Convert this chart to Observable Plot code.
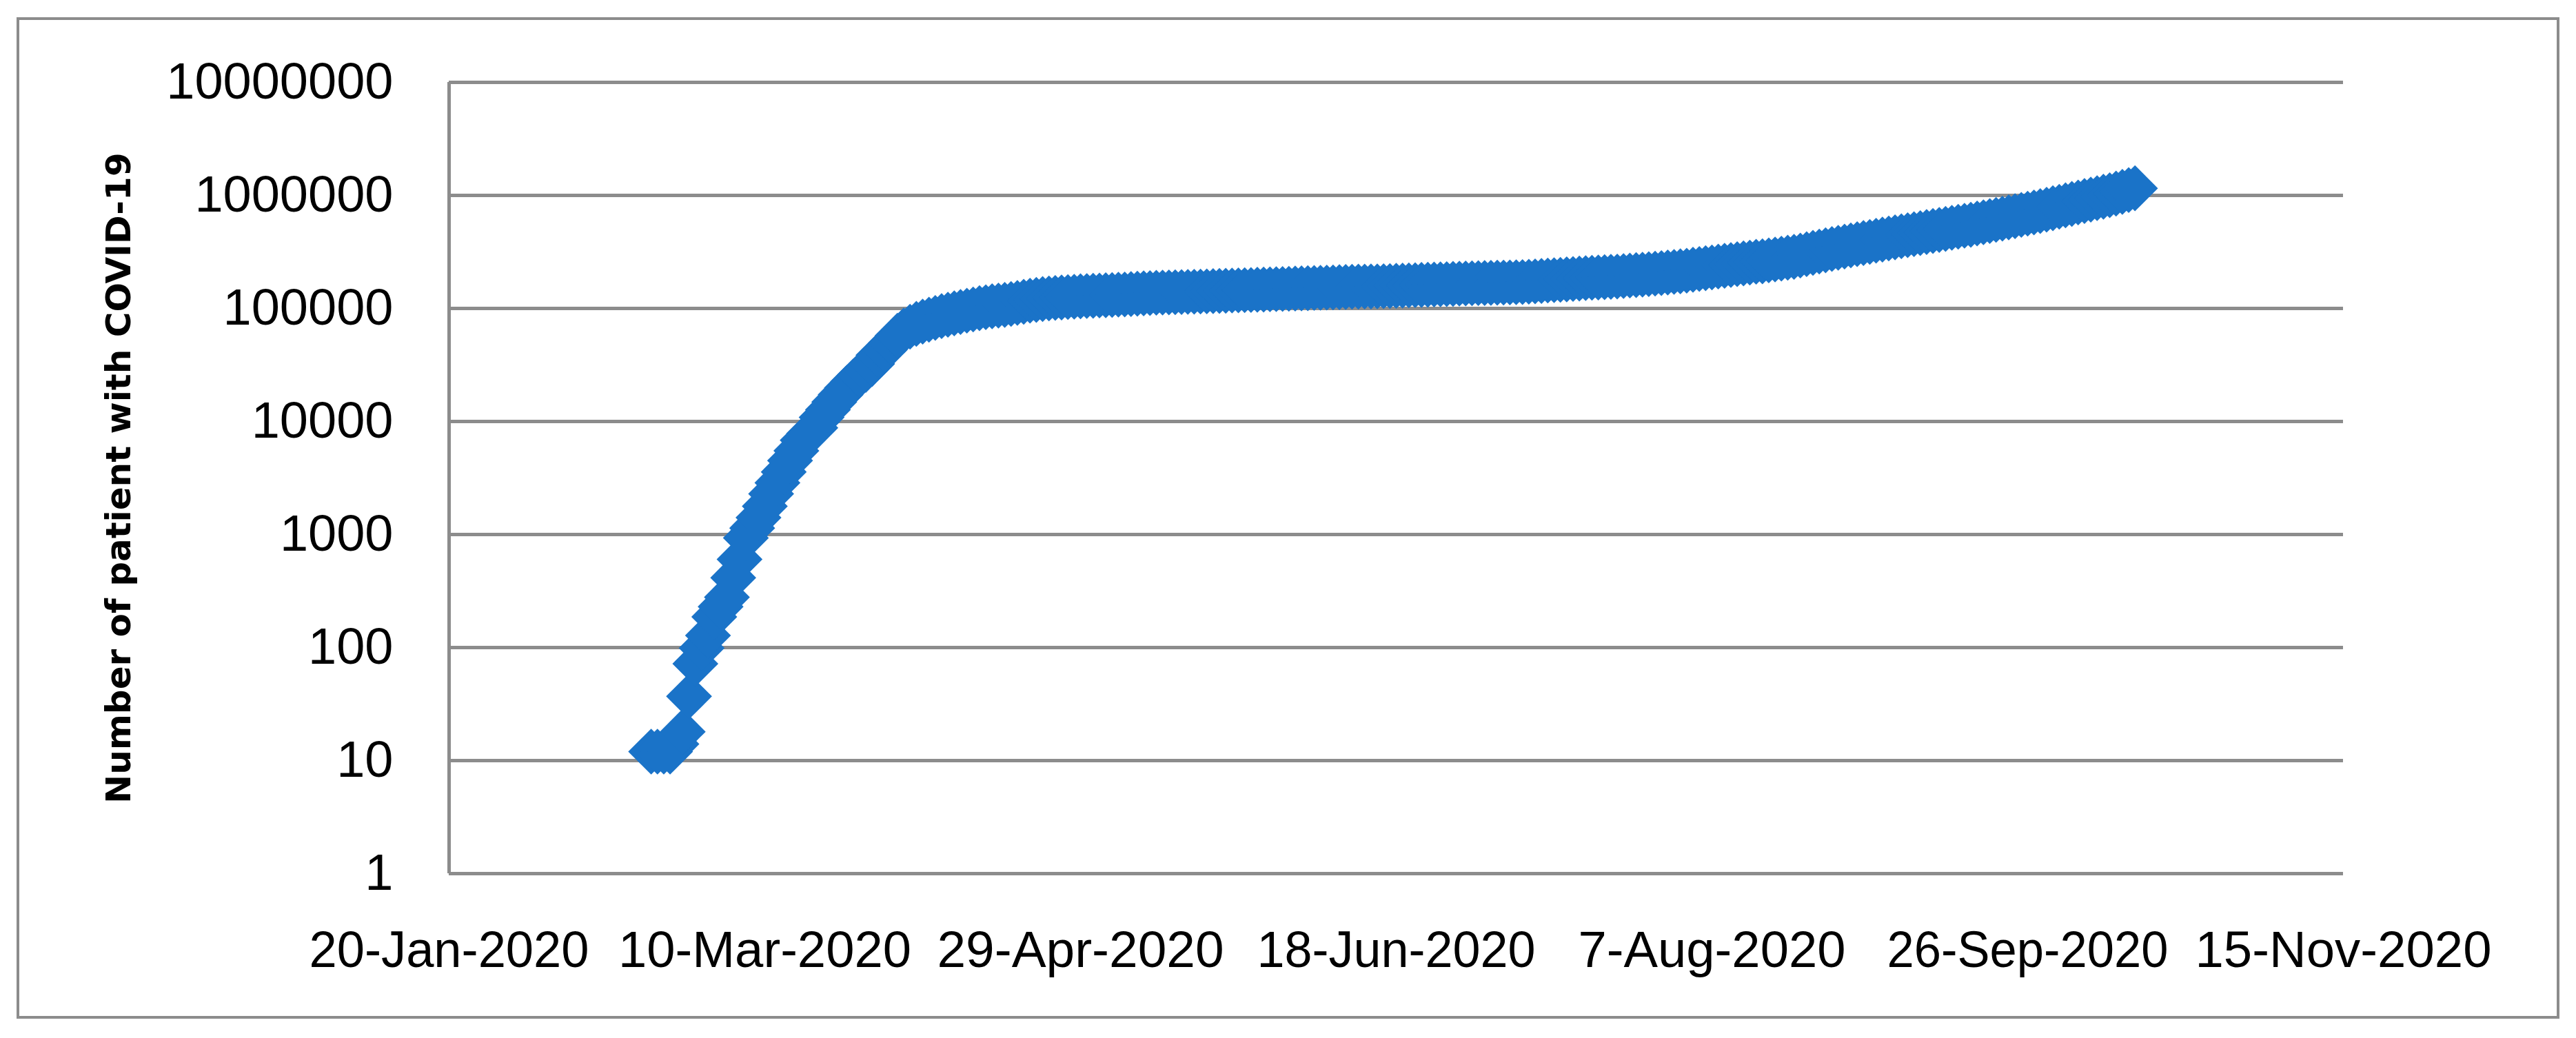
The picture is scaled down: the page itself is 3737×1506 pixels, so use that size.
<!DOCTYPE html>
<html>
<head>
<meta charset="utf-8">
<script src="https://cdn.jsdelivr.net/npm/d3@7"></script>
<script src="https://cdn.jsdelivr.net/npm/@observablehq/plot@0.6"></script>
<style>
  html, body { margin: 0; padding: 0; background: #ffffff; }
  #wrap { position: relative; width: 3737px; height: 1506px; background: #ffffff; overflow: hidden; }
  #border { position: absolute; left: 24px; top: 25px; width: 3689px; height: 1453px; box-sizing: border-box; border: 4px solid #8c8c8c; pointer-events: none; }
  #chart { position: absolute; left: 0; top: 0; }
</style>
</head>
<body>
<div id="wrap">
  <div id="border"></div>
  <div id="chart"></div>
</div>
<script>
// ---- data ----
const yTitle = "Number of patient with COVID-19";
const xTicks = ["2020-01-20", "2020-03-10", "2020-04-29", "2020-06-18", "2020-08-07", "2020-09-26", "2020-11-15"];
const xTickLabels = ["20-Jan-2020", "10-Mar-2020", "29-Apr-2020", "18-Jun-2020", "7-Aug-2020", "26-Sep-2020", "15-Nov-2020"];
const yTicks = [1, 10, 100, 1000, 10000, 100000, 1000000, 10000000];
const firstDay = "2020-02-21"; // one value per day from this date
const cases = [
  12, 12, 12, 12, 14, 18, 37, 72, 99, 128,
  187, 230, 279, 415, 603, 933, 1140, 1410, 1780, 2290,
  2870, 3580, 4500, 5500, 6820, 7810, 8770, 10870, 12700, 14880,
  17200, 19850, 22550, 25650, 28600, 32260, 38600, 43000, 49700, 57300,
  63700, 69000, 73000, 76500, 79500, 82500, 85500, 88000, 90500, 93000,
  95500, 98000, 100500, 102500, 104500, 106000, 107500, 109500, 112000, 114500,
  117000, 119000, 121000, 122500, 124000, 125000, 126000, 127000, 128000, 128800,
  129500, 130000, 130800, 131500, 132300, 133000, 134000, 135000, 136000, 136800,
  137500, 138000, 138500, 139000, 139500, 140000, 140500, 141000, 141600, 142200,
  142800, 143400, 144000, 144500, 145100, 145700, 146300, 146900, 147500, 148100,
  148700, 149300, 149900, 150500, 151100, 151700, 152300, 152900, 153500, 154200,
  154900, 155600, 155900, 156200, 156500, 156800, 157200, 157900, 158600, 159300,
  160000, 160700, 161400, 162100, 162800, 163500, 164200, 164900, 165700, 166500,
  167000, 167400, 167900, 168400, 168900, 169400, 169900, 170500, 171100, 172200,
  173600, 175000, 176400, 177800, 179200, 180700, 182200, 183800, 185400, 186600,
  187800, 189000, 190300, 191600, 193400, 195300, 197200, 199100, 201000, 203000,
  205500, 208000, 210500, 213000, 215600, 219800, 223500, 227000, 230800, 234600,
  238500, 242400, 246400, 250400, 254500, 258700, 261000, 266000, 271000, 276000,
  281000, 286000, 294000, 302000, 310000, 318500, 327000, 336000, 344000, 352500,
  361000, 370000, 379000, 388000, 397000, 406500, 416000, 425500, 435000, 444500,
  454000, 464000, 474000, 484500, 495000, 505500, 516500, 527500, 539000, 550000,
  564000, 578000, 593000, 608000, 623000, 639000, 655000, 672000, 689000, 707000,
  726000, 748000, 770000, 793000, 817000, 841000, 866000, 892000, 918000, 946000,
  974000, 1003000, 1038000, 1075000, 1114000, 1156000
];

// ---- table for the library ----
const t0 = new Date(firstDay);
const data = cases.map((v, i) => ({ date: new Date(t0.getTime() + i * 86400000), cases: v }));
const xt = xTicks.map(s => new Date(s));
const labelOf = d => xTickLabels[xt.findIndex(t => +t === +d)];

// ---- styling ----
const gridColor = "#8c8c8c";
const markerColor = "#1a73c8";
const xLabelWidths = [406, 425, 416, 404, 388, 408, 430];

const chart = Plot.plot({
  width: 3737,
  height: 1506,
  marginLeft: 651,
  marginRight: 338,
  marginTop: 119,
  marginBottom: 239,
  x: { type: "utc", domain: [xt[0], xt[xt.length - 1]] },
  y: { type: "log", domain: [1, 10000000] },
  style: { fontFamily: "'Liberation Sans', Arial, sans-serif", fontSize: "74px", color: "#000000", background: "transparent", overflow: "visible" },
  marks: [
    Plot.gridY(yTicks, { stroke: gridColor, strokeOpacity: 1, strokeWidth: 5 }),
    Plot.ruleX([xt[0]], { stroke: gridColor, strokeWidth: 5 }),
    Plot.axisY(yTicks, { tickSize: 0, tickPadding: 81, tickFormat: d => String(d), label: null, fontSize: 74 }),
    Plot.axisX(xt, { tickSize: 0, tickPadding: 83, tickFormat: labelOf, label: null, fontSize: 74 }),
    Plot.text([yTitle], { frameAnchor: "left", dx: -479, rotate: -90, fontSize: 50, fontWeight: "bold", fontFamily: "DejaVu Sans", fill: "#000000", textAnchor: "middle", lineAnchor: "middle" }),
    Plot.dot(data, { x: "date", y: "cases", symbol: "diamond2", r: 30, fill: markerColor, stroke: "none" })
  ]
});

document.getElementById("chart").appendChild(chart);

// condense x tick labels to the reference widths
const xg = chart.querySelector('[aria-label="x-axis tick label"]');
if (xg) {
  xg.querySelectorAll("text").forEach((t, i) => {
    if (xLabelWidths[i]) {
      t.setAttribute("textLength", xLabelWidths[i]);
      t.setAttribute("lengthAdjust", "spacingAndGlyphs");
    }
  });
}
</script>
</body>
</html>
